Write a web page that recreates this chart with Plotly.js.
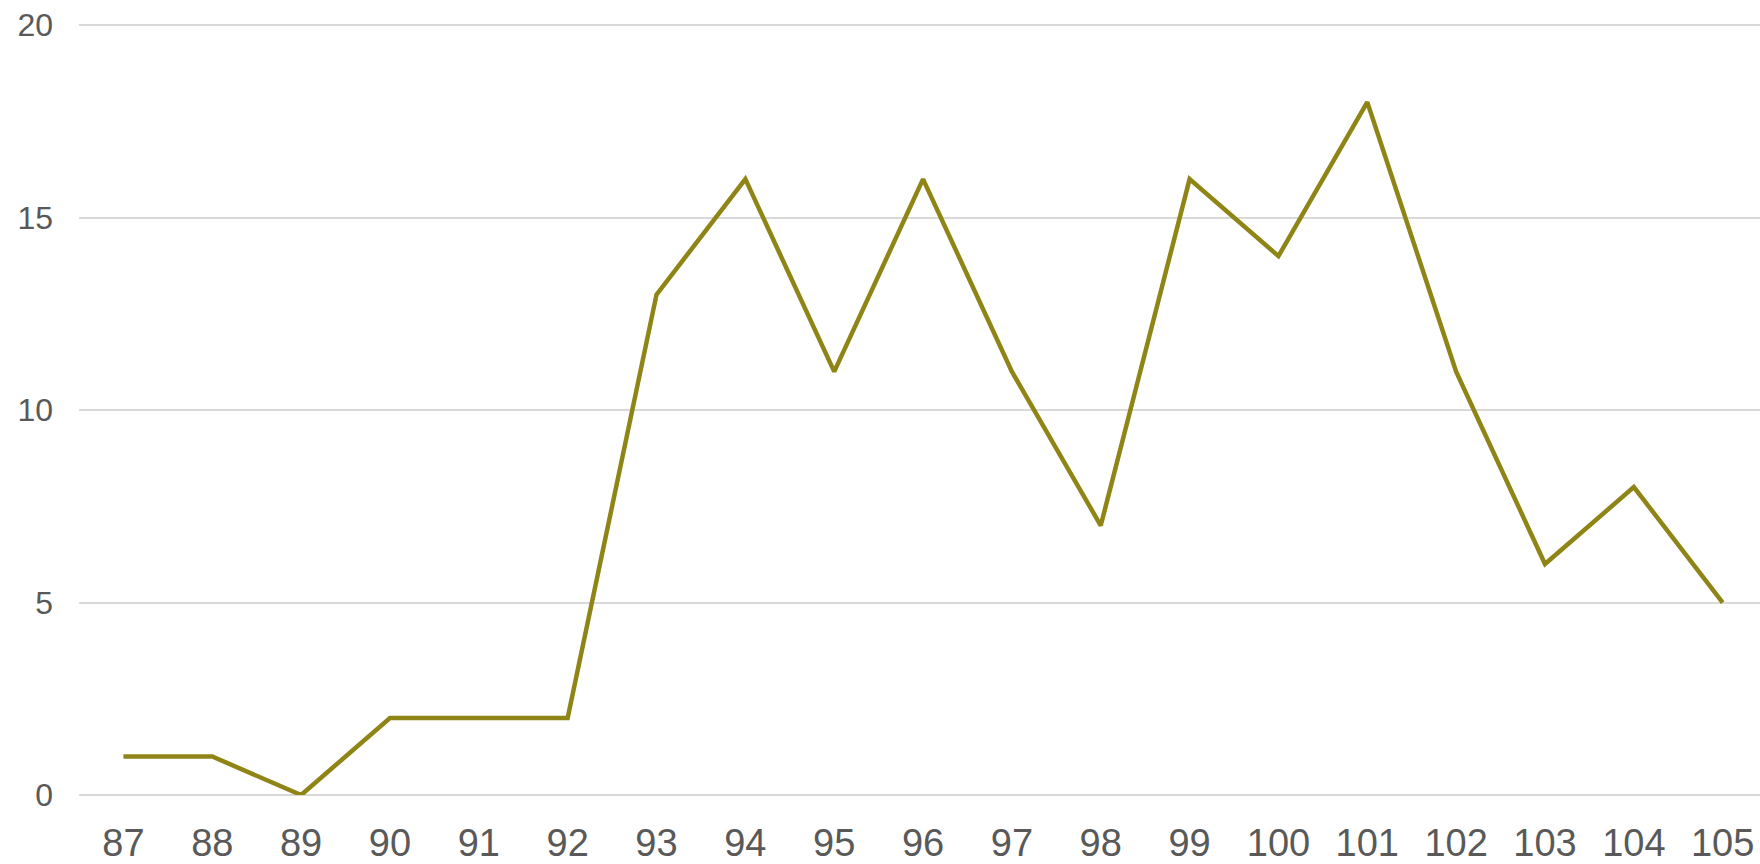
<!DOCTYPE html>
<html>
<head>
<meta charset="utf-8">
<script src="https://cdn.plot.ly/plotly-3.0.1.min.js"></script>
<style>html,body{margin:0;padding:0;background:#fff;}#chart{width:1760px;height:864px;}</style>
</head>
<body>
<div id="chart"></div>
<script>
const categories = ["87","88","89","90","91","92","93","94","95","96","97","98","99","100","101","102","103","104","105"];
const values = [1,1,0,2,2,2,13,16,11,16,11,7,16,14,18,11,6,8,5];
const yTicks = [0,5,10,15,20];

Plotly.newPlot('chart', [{
  x: categories,
  y: values,
  type: 'scatter',
  mode: 'lines',
  line: {color: '#8F8517', width: 4.5},
  hoverinfo: 'x+y'
}], {
  width: 1760,
  height: 864,
  margin: {l: 79, r: 0, t: 24, b: 69},
  paper_bgcolor: '#ffffff',
  plot_bgcolor: '#ffffff',
  showlegend: false,
  font: {family: 'Liberation Sans, Arial, sans-serif', color: '#595959'},
  xaxis: {
    type: 'category',
    range: [-0.5, 18.42],
    showgrid: false,
    zeroline: false,
    showline: false,
    ticks: '',
    ticklabelstandoff: 22,
    tickfont: {size: 38, color: '#595959'}
  },
  yaxis: {
    range: [0, 20.03],
    tickvals: yTicks,
    showgrid: true,
    gridcolor: '#d9d9d9',
    gridwidth: 1.5,
    zeroline: true,
    zerolinecolor: '#d9d9d9',
    zerolinewidth: 1.5,
    showline: false,
    ticks: '',
    ticklabelstandoff: 25,
    tickfont: {size: 32, color: '#595959'}
  }
}, {displayModeBar: false});
</script>
</body>
</html>
